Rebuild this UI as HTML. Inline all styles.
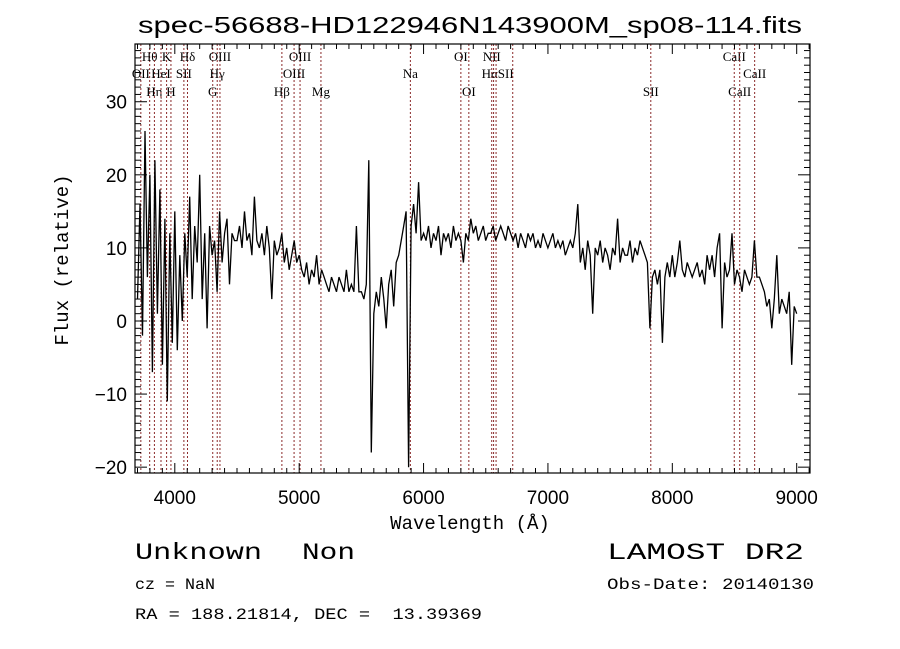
<!DOCTYPE html>
<html><head><meta charset="utf-8"><style>
html,body{margin:0;padding:0;background:#fff;}
svg{display:block;font-family:"Liberation Sans",sans-serif;}
</style></head><body>
<svg id="chart" width="900" height="649" viewBox="0 0 900 649" xmlns="http://www.w3.org/2000/svg">
<rect width="900" height="649" fill="#fff"/>
<text x="470" y="33" font-size="23" text-anchor="middle" textLength="664" lengthAdjust="spacingAndGlyphs">spec-56688-HD122946N143900M_sp08-114.fits</text>
<g id="lines"></g>
<g id="spec"></g>
<g id="axes"></g>
<text x="470" y="529" font-size="19" text-anchor="middle" font-family="Liberation Mono, monospace">Wavelength (Å)</text>
<text transform="translate(68,260) rotate(-90)" font-size="19" text-anchor="middle" font-family="Liberation Mono, monospace">Flux (relative)</text>
<text x="135" y="559" font-size="23" font-family="Liberation Mono, monospace" textLength="127" lengthAdjust="spacingAndGlyphs">Unknown</text>
<text x="302" y="559" font-size="23" font-family="Liberation Mono, monospace" textLength="53" lengthAdjust="spacingAndGlyphs">Non</text>
<text x="135" y="589" font-size="16" font-family="Liberation Mono, monospace" textLength="80" lengthAdjust="spacingAndGlyphs">cz = NaN</text>
<text x="135" y="619" font-size="16" font-family="Liberation Mono, monospace" textLength="347" lengthAdjust="spacingAndGlyphs" xml:space="preserve">RA = 188.21814, DEC =  13.39369</text>
<text x="607" y="559" font-size="23" font-family="Liberation Mono, monospace" textLength="197" lengthAdjust="spacingAndGlyphs">LAMOST DR2</text>
<text x="607" y="589" font-size="16" font-family="Liberation Mono, monospace" textLength="207" lengthAdjust="spacingAndGlyphs">Obs-Date: 20140130</text>
</svg>
<script>
const waveStart = 3700;
const waveStep = 20;
const flux = [
3,16,-2,26,6,20,-7,22,1,18,-6,14,-11,12,-3,15,-4,9,0,12,
6,17,3,13,8,20,3,12,-1,13,9,11,4,15,8,12,14,5,12,11,
11,13,10,15,11,12,9,17,11,10,12,9,13,10,3,11,9,10,12,8,10,7,9,11,8,
9,7,6,8,5,7,6,9,5,7,6,5,4,6,5,4,6,5,4,7,4,5,4,13,4,
4,3,5,22,-18,
1,4,2,6,3,-1,5,7,2,8,9,11,13,15,-20,13,16,12,19,11,
12,11,13,10,12,11,13,9,12,11,12,10,13,11,12,11,8,12,11,14,
12,13,11,12,13,11,12,12,13,11,12,13,12,11,13,12,11,12,10,12,
11,10,12,11,12,10,11,10,12,11,10,11,12,10,11,10,11,9,10,11,10,12,
16,8,10,7,11,9,1,10,9,11,8,10,9,7,10,9,14,8,10,9,9,11,8,10,9,11,10,9,
8,-1,6,7,5,7,-3,6,8,6,9,6,8,11,7,6,8,7,6,7,8,6,7,5,9,
7,9,6,10,12,-1,8,6,7,12,5,7,6,4,7,6,5,6,11,6,6,5,4,2,3,
-1,3,9,1,3,2,1,4,-6,2,1
];
const lineWaves = [3727,3798,3836,3889,3934,3969,4073,4102,4305,4341,4363,4861,4959,5007,5175,5894,6300,6364,6548,6563,6583,6717,7827,8498,8542,8662];
const lineLabels = ['OII','Hθ','Hη','HeI','K','H','SII','Hδ','G','Hγ','OIII','Hβ','OIII','OIII','Mg','Na','OI','OI','NII','HαSII','','','SII','CaII','CaII','CaII'];
const lineRows = [2,1,3,2,1,3,2,1,3,2,1,3,2,1,3,2,1,3,1,2,2,2,3,1,3,2];
const xTicks = [4000,5000,6000,7000,8000,9000];
const yTicks = [-20,-10,0,10,20,30];

const L=135,R=810,T=44,B=473;
const wMin=3680,wMax=9107,fMin=-20.8,fMax=37.9;
const xs=w=>L+(w-wMin)/(wMax-wMin)*(R-L);
const ys=f=>B-(f-fMin)/(fMax-fMin)*(B-T);
const NS="http://www.w3.org/2000/svg";
function mk(tag,attrs,parent){const e=document.createElementNS(NS,tag);for(const k in attrs)e.setAttribute(k,attrs[k]);parent.appendChild(e);return e;}

const lg=document.getElementById('lines');
const rowY=[0,61,78,96];
lineWaves.forEach((w,i)=>{
  const x=xs(w);
  const ln=mk('line',{x1:x,x2:x,y1:T,y2:B,stroke:'#8b2a2a','stroke-width':1,'stroke-dasharray':'2,2'},lg);
  
  
  const lab=lineLabels[i];
  if(lab){
    const anchor = i===19 ? 'start' : 'middle';
    const tx = i===19 ? x-12 : x;
    const t=mk('text',{x:tx,y:rowY[lineRows[i]],'font-size':13,'text-anchor':anchor,'font-family':'Liberation Serif, serif'},lg);
    t.textContent=lab;
    
    
  }
});

const sg=document.getElementById('spec');
const pts=flux.map((f,i)=>{const fy=Math.max(fMin,Math.min(fMax,f));return xs(waveStart+i*waveStep).toFixed(1)+','+ys(fy).toFixed(1);});
const pl=mk('polyline',{points:pts.join(' '),fill:'none',stroke:'#000','stroke-width':1.3,'stroke-linejoin':'miter'},sg);



const ag=document.getElementById('axes');
const fr=mk('rect',{x:L,y:T,width:R-L,height:B-T,fill:'none',stroke:'#000','stroke-width':1.2},ag);


for(let w=3700;w<=9100;w+=100){
  const x=xs(w);const maj=w%1000===0;const len=maj?10:5;
  mk('line',{x1:x,x2:x,y1:B,y2:B-len,stroke:'#000','stroke-width':1},ag);
  mk('line',{x1:x,x2:x,y1:T,y2:T+len,stroke:'#000','stroke-width':1},ag);
}
xTicks.forEach(w=>{
  const t=mk('text',{x:xs(w),y:504,'font-size':19,'text-anchor':'middle'},ag);
  t.textContent=w;
  
  
});
for(let f=-20;f<=37;f++){
  const y=ys(f);const maj=f%10===0;const len=maj?12:6;
  mk('line',{x1:L,x2:L+len,y1:y,y2:y,stroke:'#000','stroke-width':1},ag);
  mk('line',{x1:R,x2:R-len,y1:y,y2:y,stroke:'#000','stroke-width':1},ag);
}
yTicks.forEach(f=>{
  const t=mk('text',{x:127,y:ys(f)+7,'font-size':19,'text-anchor':'end'},ag);
  t.textContent=f<0?'−'+Math.abs(f):f;
  
  
});
</script>
</body></html>
